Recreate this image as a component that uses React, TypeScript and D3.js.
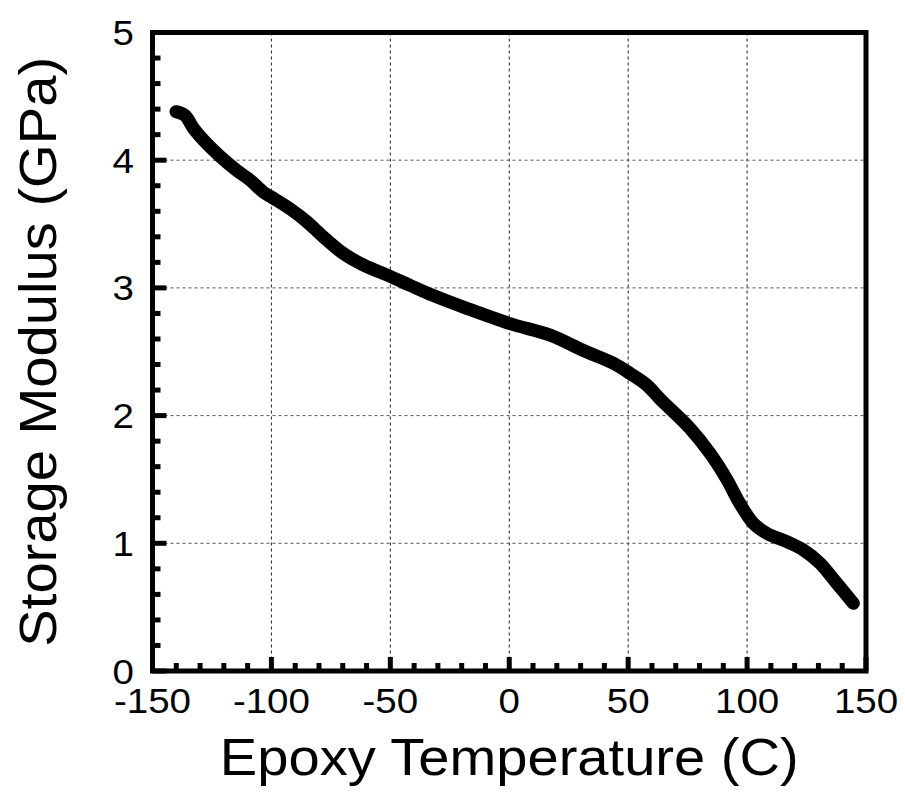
import React from 'react'
import * as d3 from 'd3'

const temps = [-140.1, -136.3, -132.8, -127.2, -121.6, -114.6, -109, -103.4, -99.9, -92.2, -85.2, -78.2, -69.8, -61.4, -50.1, -41.7, -31.9, -17.9, 0.3, 17.2, 31.2, 43.8, 50.8, 57.8, 63.4, 76, 84.4, 91.5, 97, 102.6, 108.3, 116.7, 123.7, 130.7, 137.7, 144.7]
const modulus = [4.38, 4.35, 4.25, 4.13, 4.03, 3.92, 3.845, 3.75, 3.71, 3.62, 3.52, 3.4, 3.27, 3.18, 3.09, 3.02, 2.94, 2.84, 2.72, 2.63, 2.51, 2.41, 2.33, 2.24, 2.13, 1.9, 1.705, 1.5, 1.31, 1.157, 1.078, 1.013, 0.948, 0.843, 0.687, 0.53]

const xTicks = [-150, -100, -50, 0, 50, 100, 150]
const yTicks = [0, 1, 2, 3, 4, 5]
const xMinor = d3.range(-150, 151, 10)
const yMinor = d3.range(0, 5.01, 0.2)

const W = 905
const H = 792
const left = 152.5
const right = 866
const top = 32.5
const bottom = 671

export default function App() {
  const x = d3.scaleLinear().domain([-150, 150]).range([left, right])
  const y = d3.scaleLinear().domain([0, 5]).range([bottom, top])

  const pts = temps.map((t, i) => [t, modulus[i]] as [number, number])
  const line = d3.line<[number, number]>()
    .x(d => x(d[0]))
    .y(d => y(d[1]))
    .curve(d3.curveCatmullRom)

  const font = 'Liberation Sans, Arial, sans-serif'

  return (
    <svg width={W} height={H} style={{ position: 'absolute', left: 0, top: 0, background: '#fff' }}>
      {/* grid */}
      {xTicks.slice(1, -1).map(t => (
        <line key={'gx' + t} x1={x(t)} x2={x(t)} y1={top} y2={bottom}
          stroke="#222" strokeWidth={1} strokeDasharray="3,3" />
      ))}
      {yTicks.slice(1, -1).map(t => (
        <line key={'gy' + t} x1={left} x2={right} y1={y(t)} y2={y(t)}
          stroke="#555" strokeWidth={1} strokeDasharray="3,3" />
      ))}

      {/* minor + major ticks */}
      {xMinor.map(t => {
        const major = xTicks.includes(t)
        return <line key={'tx' + t} x1={x(t)} x2={x(t)} y1={bottom} y2={bottom - (major ? 14 : 8)}
          stroke="#000" strokeWidth={5} />
      })}
      {yMinor.map(t => {
        const major = Math.abs(t - Math.round(t)) < 1e-6
        return <line key={'ty' + t} x1={left} x2={left + (major ? 14 : 8)} y1={y(t)} y2={y(t)}
          stroke="#000" strokeWidth={5} />
      })}

      {/* frame */}
      <rect x={left} y={top} width={right - left} height={bottom - top}
        fill="none" stroke="#000" strokeWidth={5} />

      {/* curve */}
      <path d={line(pts) || ''} fill="none" stroke="#000" strokeWidth={13}
        strokeLinecap="round" strokeLinejoin="round" />

      {/* tick labels */}
      {xTicks.map(t => (
        <text key={'lx' + t} transform={`translate(${x(t)}, 713) scale(1.1, 1)`} textAnchor="middle"
          fontFamily={font} fontSize={35}>{t}</text>
      ))}
      {yTicks.map(t => (
        <text key={'ly' + t} transform={`translate(134, ${y(t) + 12.5}) scale(1.1, 1)`} textAnchor="end"
          fontFamily={font} fontSize={35}>{t}</text>
      ))}

      {/* titles */}
      <text transform={`translate(${(left + right) / 2}, 775) scale(1.1, 1)`} textAnchor="middle"
        fontFamily={font} fontSize={51}>Epoxy Temperature (C)</text>
      <text transform={`translate(56, ${(top + bottom) / 2}) rotate(-90) scale(1.08, 1)`} textAnchor="middle"
        fontFamily={font} fontSize={52}>Storage Modulus (GPa)</text>
    </svg>
  )
}
